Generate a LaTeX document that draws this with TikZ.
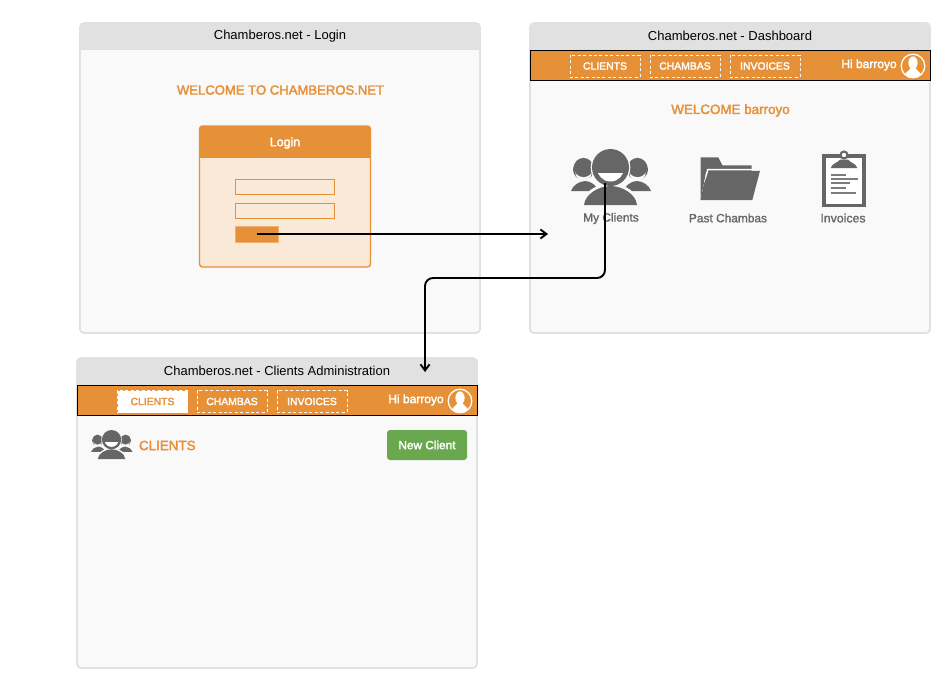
\documentclass[tikz,border=0pt]{standalone}
\usepackage{fontspec}
\setmainfont{Liberation Sans}
\newfontfamily\medfont[FakeBold=2.4]{Liberation Sans}
\newfontfamily\lightfont[FakeBold=1.2]{Liberation Sans}
\usetikzlibrary{arrows.meta}
\definecolor{orangeui}{HTML}{E69138}
\definecolor{headgray}{HTML}{E1E1E1}
\definecolor{bodygray}{HTML}{F9F9F9}
\definecolor{icongray}{HTML}{666666}
\definecolor{greenui}{HTML}{6AA84F}
\definecolor{panelpeach}{HTML}{FBE9D7}
\tikzset{
  every node/.style={inner sep=0pt,outer sep=0pt},
  titletext/.style={font=\fontsize{13}{15}\selectfont,text=black},
  bigorange/.style={font=\medfont\fontsize{13.4}{15}\selectfont,text=orangeui},
  navbtn/.style={draw=white,line width=1pt,dash pattern=on 3pt off 2.4pt,minimum width=70pt,minimum height=22pt,text=white,font=\medfont\fontsize{10.4}{12}\selectfont},
  navactive/.style={navbtn,fill=white,text=orangeui},
  navbar/.style={draw=black,line width=1.1pt,fill=orangeui,minimum width=400pt,minimum height=30pt},
  hitext/.style={font=\medfont\fontsize{12}{13}\selectfont,text=white},
  iconlabel/.style={font=\lightfont\fontsize{11.9}{13}\selectfont,text=icongray},
  inputbox/.style={draw=orangeui,line width=1.4pt,fill=panelpeach,minimum width=99pt,minimum height=15pt},
  conn/.style={draw=black,line width=1.9pt,-{Straight Barb[length=6pt,width=9pt,line width=1.9pt]}},
  window/.pic={
    \fill[bodygray,rounded corners=4pt] (0,0) rectangle (400,310);
    \begin{scope}
      \clip[rounded corners=4pt] (0,0) rectangle (400,310);
      \fill[headgray] (0,0) rectangle (400,27);
    \end{scope}
    \draw[headgray,line width=1.8pt,rounded corners=4pt] (0,0) rectangle (400,310);
  },
  people/.pic={
    % side persons
    \fill[icongray] (12.5,20.5) circle (10.5);
    \fill[icongray] (66.5,20.5) circle (10.5);
    \fill[bodygray] (12.5,23.5) circle (8.2);
    \fill[bodygray] (66.5,23.5) circle (8.2);
    \fill[icongray] (12.5,18.5) circle (9.6);
    \fill[icongray] (66.5,18.5) circle (9.6);
    \fill[icongray] (0,42) .. controls (2,36) and (8,32.5) .. (14,32) .. controls (20,32) and (26,37) .. (28,42) -- cycle;
    \fill[icongray] (80,42) .. controls (78,36) and (72,32.5) .. (66,32) .. controls (60,32) and (54,37) .. (52,42) -- cycle;
    % clearance round the front person
    \fill[bodygray] (39.5,18.5) circle (19.8);
    \fill[bodygray] (10,57) .. controls (11,43) and (26,34.5) .. (39.5,34.5) .. controls (53,34.5) and (68,43) .. (69,57) -- cycle;
    % front person
    \fill[icongray] (39.5,18.5) circle (18.5);
    \begin{scope}
      \clip (20,24.5) rectangle (60,40);
      \fill[white] (39.5,19) circle (13.5);
    \end{scope}
    \fill[icongray] (13,56) .. controls (14,45) and (28,37) .. (39.5,37) .. controls (51,37) and (65,45) .. (66,56) -- cycle;
  },
  avatar/.pic={
    \begin{scope}
      \clip (0,0) circle (11.6);
      \fill[white] (0,-3.2) ellipse (4.6 and 6.4);
      \fill[white] (-9,12) .. controls (-9,6) and (-4,5.5) .. (-2.4,2) -- (2.4,2) .. controls (4,5.5) and (9,6) .. (9,12) -- cycle;
    \end{scope}
    \draw[white,line width=1.3pt] (0,0) circle (11.8);
  }
}
\begin{document}
\begin{tikzpicture}[x=1pt,y=-1pt]
\useasboundingbox (0,0) rectangle (952,688);

% Windows
\pic at (80,23) {window};
\pic at (530,23) {window};
\pic at (77,358) {window};

\node[titletext] (logintitle) at (280,36) {Chamberos.net - Login};
\node[titletext] (dashtitle) at (730,36) {Chamberos.net - Dashboard};
\node[titletext] (clienttitle) at (277,371) {Chamberos.net - Clients Administration};

% Login window
\node[bigorange,font=\medfont\fontsize{13.1}{15}\selectfont] (welcome) at (280.5,90) {WELCOME TO CHAMBEROS.NET};
\fill[panelpeach,rounded corners=3pt] (199.5,126) rectangle (370.5,267);
\begin{scope}
  \clip[rounded corners=3pt] (199.5,126) rectangle (370.5,267);
  \fill[orangeui] (199.5,126) rectangle (370.5,158);
\end{scope}
\draw[orangeui,line width=1.4pt,rounded corners=3pt] (199.5,126) rectangle (370.5,267);
\node[font=\medfont\fontsize{12.4}{14}\selectfont,text=white] (logintext) at (285,143) {Login};
\node[inputbox] (userinput) at (285,187) {};
\node[inputbox] (passinput) at (285,211) {};
\node[fill=orangeui,draw=orangeui!70,line width=0.5pt,minimum width=42.5pt,minimum height=15.5pt] (loginbtn) at (256.5,234) {};

% Dashboard window
\node[navbar] (dashnav) at (730.5,65.5) {};
\node[navbtn] (dclients) at (605,66) {CLIENTS};
\node[navbtn] (dchambas) at (685,66) {CHAMBAS};
\node[navbtn] (dinvoices) at (765,66) {INVOICES};
\node[hitext] (dhi) at (869,65) {Hi barroyo};
\pic at (913,66) {avatar};
\node[bigorange] (welcomeuser) at (730.5,110.5) {WELCOME barroyo};

% Dashboard icons
\pic at (571,149) {people};
\node[iconlabel] (lclients) at (611,218.5) {My Clients};
% folder
\fill[icongray] (700.7,157.3) -- (718.3,157.3) -- (722.3,165.3) -- (751.7,165.3) -- (751.7,172) -- (706,172) -- (700.7,200) -- cycle;
\draw[white,line width=1.4pt] (752,169.6) -- (707.6,169.6) -- (704.6,184.5);
\fill[icongray] (708.6,170.8) -- (760,170.8) -- (752.3,200) -- (700.7,200) -- (703.6,185) -- cycle;
\node[iconlabel] (lchambas) at (728,218) {Past Chambas};
% clipboard
\fill[icongray] (821.7,153.7) rectangle (866,207.3);
\fill[white] (826,158) rectangle (861.7,203.7);
\fill[icongray] (844,155) circle (4.6);
\fill[white] (844,155) circle (2.2);
\fill[icongray] (830.7,168) .. controls (832,163) and (838,163) .. (840,159.5) -- (848,159.5) .. controls (850,163) and (856,163) .. (857.3,168) -- cycle;
\foreach \ya/\xa in {175/845.7,179/857.7,183/850,188/845.7,193/856}
  \draw[icongray!85,line width=1.5pt] (830.7,\ya) -- (\xa,\ya);
\node[iconlabel,font=\lightfont\fontsize{12.3}{13}\selectfont] (linvoices) at (843,218) {Invoices};

% Clients window
\node[navbar] (clientnav) at (277.5,400.5) {};
\node[navactive] (cclients) at (152.5,401.5) {CLIENTS};
\node[navbtn] (cchambas) at (232,401.5) {CHAMBAS};
\node[navbtn] (cinvoices) at (312,401.5) {INVOICES};
\node[hitext] (chi) at (416,400) {Hi barroyo};
\pic at (460,401) {avatar};
\pic[scale=0.52] at (91,430) {people};
\node[bigorange,anchor=west] (clientshead) at (139,445.5) {CLIENTS};
\node[fill=greenui,rounded corners=3pt,minimum width=80pt,minimum height=30pt,text=white,font=\medfont\fontsize{11.8}{13}\selectfont] (newclient) at (427,445) {New Client};

% Connectors
\coordinate (arrowoneend) at (548,234);
\coordinate (peoplestart) at (605,183);
\coordinate (clientwinend) at (425,372);
\draw[conn] (loginbtn.center) -- (arrowoneend);
\draw[conn,rounded corners=8pt] (peoplestart) |- (425,278) -- (clientwinend);
\end{tikzpicture}
\end{document}
